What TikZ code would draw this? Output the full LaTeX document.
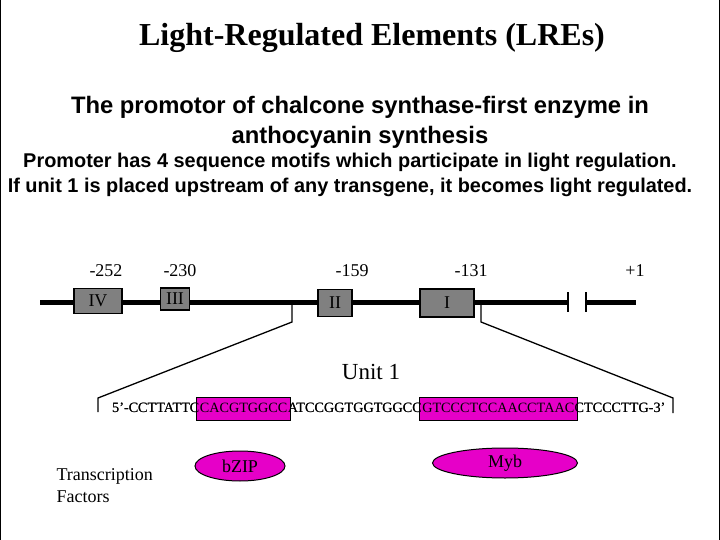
\documentclass[tikz,border=0pt]{standalone}
\usepackage{fontspec}
\setmainfont{Liberation Serif}
\setsansfont{Liberation Sans}
\usetikzlibrary{shapes.geometric}
\definecolor{mag}{RGB}{230,0,200}
\definecolor{gbox}{RGB}{128,128,128}
\begin{document}
\begin{tikzpicture}[x=1pt,y=-1pt,
  motif/.style={draw=black,fill=gbox,line width=1.2pt,inner sep=0pt,font=\fontsize{18}{18}\selectfont},
  poslabel/.style={font=\fontsize{18}{18}\selectfont},
  seq/.style={inner sep=0pt,font=\fontsize{14.2}{15}\selectfont},
  tf/.style={ellipse,draw=black,line width=1pt,fill=mag,font=\fontsize{18}{18}\selectfont,inner sep=0pt},
  conn/.style={line width=1.3pt}]
\useasboundingbox (0,0) rectangle (720,540);
\draw[line width=1pt] (0.5,0) -- (0.5,540) (719.5,0)--(719.5,540);
\node (title) at (372,38) {\fontsize{32}{34}\selectfont\bfseries Light-Regulated Elements (LREs)};
\node[align=center,font=\sffamily\bfseries\fontsize{23.8}{30}\selectfont] (sub) at (360,122) {The promotor of chalcone synthase-first enzyme in\\anthocyanin synthesis};
\node[align=center,font=\sffamily\bfseries\fontsize{19.9}{25}\selectfont] (desc) at (350,175) {Promoter has 4 sequence motifs which participate in light regulation.\\If unit 1 is placed upstream of any transgene, it becomes light regulated.};
% positions
\node[poslabel] (p1) at (106,271) {-252};
\node[poslabel] (p2) at (180,271) {-230};
\node[poslabel] (p3) at (352,271) {-159};
\node[poslabel] (p4) at (471,271) {-131};
\node[poslabel] (p5) at (635,271) {+1};
% main line
\coordinate (L0) at (40,302); \coordinate (L1) at (568,302);
\coordinate (R0) at (586,302); \coordinate (R1) at (636,302);
\draw[line width=5pt] (L0) -- (L1) (R0) -- (R1);
\draw[line width=1.2pt] (568,292) -- (568,312) (586,292) -- (586,312);
\node[motif,minimum width=48pt,minimum height=25pt] (IV) at (98,301) {IV};
\node[motif,minimum width=29pt,minimum height=22pt] (III) at (175,299) {III};
\node[motif,minimum width=34pt,minimum height=27pt] (II) at (335,303) {II};
\node[motif,minimum width=54pt,minimum height=28pt] (I) at (447,303) {I};
\node (unit) at (371,372) {\fontsize{23}{24}\selectfont Unit 1};
% sequence
\node[seq,anchor=west] (s1) at (112,408) {5’-CCTTATTC};
\node[seq,anchor=west] (s2) at (s1.east) {CACGTGGCC};
\node[seq,anchor=west] (s3) at (s2.east) {ATCCGGTGGTGGCC};
\node[seq,anchor=west] (s4) at (s3.east) {GTCCCTCCAACCTAAC};
\node[seq,anchor=west] (s5) at (s4.east) {CTCCCTTG-3’};
\fill[mag] ([xshift=-3pt]s2.west |- 0,397) rectangle ([xshift=3pt]s2.east |- 0,420);
\fill[mag] ([xshift=-3pt]s4.west |- 0,397) rectangle ([xshift=3pt]s4.east |- 0,420);
\draw[line width=0.9pt] ([xshift=-3pt]s2.west |- 0,397) rectangle ([xshift=3pt]s2.east |- 0,420);
\draw[line width=0.9pt] ([xshift=-3pt]s4.west |- 0,397) rectangle ([xshift=3pt]s4.east |- 0,420);
\node[seq,anchor=west] at (112,408) {5’-CCTTATTC};
\node[seq,anchor=west] at (s2.west) {CACGTGGCC};
\node[seq,anchor=west] at (s3.west) {ATCCGGTGGTGGCC};
\node[seq,anchor=west] at (s4.west) {GTCCCTCCAACCTAAC};
\node[seq,anchor=west] at (s5.west) {CTCCCTTG-3’};
% zoom lines
\coordinate (a0) at (292,304); \coordinate (a1) at (292,322);
\coordinate (a2) at (98,398); \coordinate (a3) at (98,412);
\coordinate (b0) at (481,304); \coordinate (b1) at (481,322);
\coordinate (b2) at (673,398); \coordinate (b3) at (673,413);
\draw[conn] (a0) -- (a1) -- (a2) -- (a3);
\draw[conn] (b0) -- (b1) -- (b2) -- (b3);
% TFs
\node[align=left,anchor=west,font=\fontsize{18}{22}\selectfont] (tftext) at (53,486) {Transcription\\Factors};
\node[tf,minimum width=90pt,minimum height=30pt] (bzip) at (240,466) {bZIP};
\node[tf,minimum width=145pt,minimum height=30pt] (myb) at (505,463) {Myb};
\end{tikzpicture}
\end{document}
